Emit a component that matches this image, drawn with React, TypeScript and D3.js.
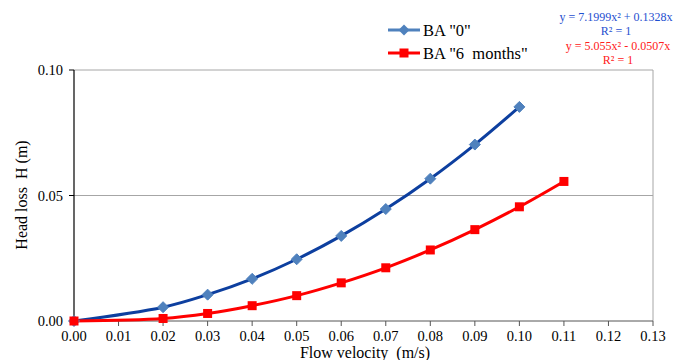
import React from "react";
import * as d3 from "d3";

const velocity0 = [0, 0.02, 0.03, 0.04, 0.05, 0.06, 0.07, 0.08, 0.09, 0.1];
const headLoss0 = [0, 0.0055, 0.0105, 0.0168, 0.0246, 0.0339, 0.0446, 0.0567, 0.0703, 0.0853];
const velocity6 = [0, 0.02, 0.03, 0.04, 0.05, 0.06, 0.07, 0.08, 0.09, 0.1, 0.11];
const headLoss6 = [0, 0.001, 0.003, 0.0061, 0.0101, 0.0152, 0.0212, 0.0283, 0.0364, 0.0455, 0.0556];
const xTicks = [0, 0.01, 0.02, 0.03, 0.04, 0.05, 0.06, 0.07, 0.08, 0.09, 0.1, 0.11, 0.12, 0.13];
const yTicks = [0, 0.05, 0.1];
const seriesNames = ['BA "0"', 'BA "6  months"'];
const eqLabels = ["y = 7.1999x² + 0.1328x", "R² = 1", "y = 5.055x² - 0.0507x", "R² = 1"];

const W = 675, H = 360;
const left = 74, right = 653, top = 70, bottom = 321;
const BLUE = "#0D3F9F", BLUE_M = "#4F81BD", RED = "#FF0000";
const FONT = '"Liberation Serif", "Times New Roman", Times, serif';
const ts = { fontFamily: FONT, whiteSpace: "pre" as const };

export default function App() {
  const x = d3.scaleLinear().domain([0, 0.13]).range([left, right]);
  const y = d3.scaleLinear().domain([0, 0.1]).range([bottom, top]);
  const line = d3.line<[number, number]>().x(d => x(d[0])).y(d => y(d[1])).curve(d3.curveCatmullRom.alpha(0.5));
  const s0: [number, number][] = velocity0.map((v, i) => [v, headLoss0[i]]);
  const s6: [number, number][] = velocity6.map((v, i) => [v, headLoss6[i]]);
  const diamond = (cx: number, cy: number, r = 5.5) => `M${cx},${cy - r}L${cx + r},${cy}L${cx},${cy + r}L${cx - r},${cy}Z`;

  return (
    <svg width={W} height={H} style={{ position: "absolute", left: 0, top: 0, background: "#fff" }}>
      {yTicks.filter(t => t > 0).map(t => (
        <line key={t} x1={left} x2={right} y1={y(t)} y2={y(t)} stroke="#A6A6A6" strokeWidth={1} />
      ))}
      <line x1={right} x2={right} y1={top} y2={bottom} stroke="#A6A6A6" strokeWidth={1} />
      <line x1={left} x2={left} y1={top} y2={bottom} stroke="#000" strokeWidth={1.2} />
      <line x1={left} x2={right} y1={bottom} y2={bottom} stroke="#555" strokeWidth={1} />
      {yTicks.map(t => (
        <g key={t}>
          <line x1={left - 5} x2={left} y1={y(t)} y2={y(t)} stroke="#000" />
          <text x={63} y={y(t) + 5} textAnchor="end" fontSize={14.5} fill="#000" style={ts}>{t.toFixed(2)}</text>
        </g>
      ))}
      {xTicks.map(t => (
        <g key={t}>
          <line x1={x(t)} x2={x(t)} y1={bottom} y2={bottom + 5} stroke="#555" />
          <text x={x(t)} y={341} textAnchor="middle" fontSize={14.5} fill="#000" style={ts}>{t.toFixed(2)}</text>
        </g>
      ))}
      <text x={365} y={358} textAnchor="middle" fontSize={16} fill="#000" style={ts}>Flow velocity  (m/s)</text>
      <text transform={`translate(27,195) rotate(-90)`} textAnchor="middle" fontSize={16} fill="#000" style={ts}>Head loss  H (m)</text>

      <path d={line(s0) || ""} fill="none" stroke={BLUE} strokeWidth={3} />
      <path d={line(s6) || ""} fill="none" stroke={RED} strokeWidth={3} />
      {s0.map((d, i) => (
        <path key={i} d={diamond(x(d[0]), y(d[1]))} fill={BLUE_M} stroke={BLUE_M} strokeWidth={1} />
      ))}
      {s6.map((d, i) => (
        <rect key={i} x={x(d[0]) - 4.5} y={y(d[1]) - 4.5} width={9} height={9} fill={RED} />
      ))}

      <line x1={388} x2={420} y1={30} y2={30} stroke={BLUE_M} strokeWidth={3} />
      <path d={diamond(404, 30)} fill={BLUE_M} />
      <text x={423} y={36} fontSize={16.5} fill="#000" style={ts}>{seriesNames[0]}</text>
      <line x1={388} x2={420} y1={53} y2={53} stroke={RED} strokeWidth={3} />
      <rect x={399.5} y={48.5} width={9} height={9} fill={RED} />
      <text x={423} y={59} fontSize={16.5} fill="#000" style={ts}>{seriesNames[1]}</text>

      <text x={616} y={21} textAnchor="middle" fontSize={12} fill="#1F4FD0" style={ts}>{eqLabels[0]}</text>
      <text x={616} y={35} textAnchor="middle" fontSize={12} fill="#1F4FD0" style={ts}>{eqLabels[1]}</text>
      <text x={618} y={50} textAnchor="middle" fontSize={12} fill="#FF2020" style={ts}>{eqLabels[2]}</text>
      <text x={618} y={64} textAnchor="middle" fontSize={12} fill="#FF2020" style={ts}>{eqLabels[3]}</text>
    </svg>
  );
}
